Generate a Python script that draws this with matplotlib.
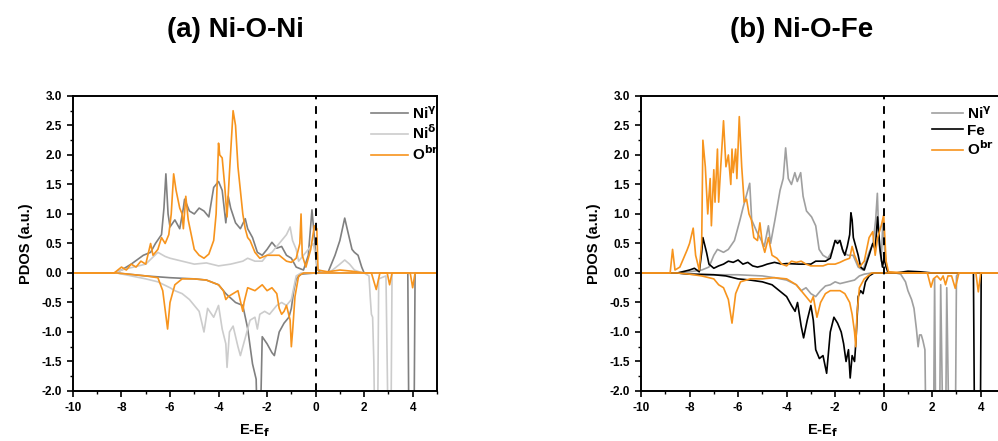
import matplotlib.pyplot as plt
from matplotlib.ticker import MultipleLocator

plt.rcParams['font.family'] = ['Liberation Sans', 'DejaVu Sans']
plt.rcParams['font.weight'] = 'bold'
plt.rcParams['axes.unicode_minus'] = False

# ---- panel (a) Ni-O-Ni : energies (eV) and PDOS values ----
a_niy_up_e = [-10, -8.3, -8.0, -7.6, -7.1, -6.8, -6.6, -6.35, -6.25, -6.17, -6.08, -6.0, -5.8, -5.6, -5.45,
              -5.4, -5.2, -5.0, -4.8, -4.6, -4.4, -4.2, -4.0, -3.85, -3.7, -3.6, -3.5, -3.3, -3.1, -2.9,
              -2.8, -2.6, -2.4, -2.2, -2.0, -1.8, -1.6, -1.4, -1.2, -1.0, -0.8, -0.5, -0.3, -0.15, -0.05,
              0.05, 0.15, 0.5, 0.6, 0.8, 1.0, 1.2, 1.3, 1.5, 1.6, 1.75, 1.9, 2.0, 5]
a_niy_up_v = [0, 0, 0.05, 0.15, 0.3, 0.35, 0.5, 0.65, 1.1, 1.68, 1.0, 0.78, 0.9, 0.75, 1.1,
              1.25, 1.05, 1.0, 1.1, 1.05, 0.95, 1.45, 1.55, 1.4, 0.85, 1.3, 1.1, 0.85, 0.75, 0.92,
              0.75, 0.6, 0.35, 0.3, 0.4, 0.52, 0.42, 0.45, 0.3, 0.25, 0.1, 0.05, 0.3, 1.07, 0.6,
              0.1, 0.02, 0, 0.1, 0.3, 0.55, 0.93, 0.75, 0.4, 0.35, 0.3, 0.1, 0, 0]
a_niy_dn_e = [-10, -8.2, -7.0, -6.0, -5.0, -4.5, -4.0, -3.7, -3.3, -3.0, -2.8, -2.6, -2.45, -2.38, -2.3,
              -2.2, -2.0, -1.8, -1.7, -1.5, -1.3, -1.1, -1.0, -0.9, -0.8, -0.6, 0, 3.8, 3.85, 4.05, 4.1, 5]
a_niy_dn_v = [0, 0, -0.05, -0.08, -0.1, -0.12, -0.2, -0.35, -0.5, -0.55, -0.94, -1.54, -1.8, -3.0, -3.0,
              -1.08, -1.2, -1.35, -1.4, -1.0, -0.85, -0.75, -0.6, -0.3, -0.1, -0.02, 0, 0, -3.0, -3.0, 0, 0]

a_nid_up_e = [-10, -8.3, -8.0, -7.0, -6.5, -6.2, -6.0, -5.5, -5.0, -4.5, -4.0, -3.5, -3.0, -2.8, -2.5,
              -2.2, -2.0, -1.8, -1.5, -1.2, -1.05, -0.95, -0.8, -0.7, -0.5, -0.3, -0.1, 0.0, 0.1, 0.5,
              0.7, 1.0, 1.2, 1.4, 1.6, 1.8, 2.0, 5]
a_nid_up_v = [0, 0, 0.05, 0.15, 0.35, 0.28, 0.25, 0.2, 0.15, 0.17, 0.12, 0.15, 0.2, 0.25, 0.2,
              0.2, 0.3, 0.35, 0.5, 0.65, 0.78, 0.55, 0.4, 0.2, 0.3, 0.4, 0.5, 0.3, 0.05, 0,
              0.05, 0.15, 0.22, 0.15, 0.05, 0.02, 0, 0]
a_nid_dn_e = [-10, -8.2, -7.0, -6.5, -6.0, -5.8, -5.5, -5.2, -5.0, -4.8, -4.6, -4.45, -4.2, -4.0, -3.85,
              -3.7, -3.65, -3.55, -3.4, -3.2, -3.1, -2.9, -2.7, -2.5, -2.4, -2.3, -2.1, -1.9, -1.6, -1.4,
              -1.2, -1.0, -0.9, -0.8, -0.6, 2.0, 2.2, 2.25, 2.3, 2.35, 2.4, 2.45, 2.55, 2.6, 2.9,
              3.0, 3.1, 3.15, 5]
a_nid_dn_v = [0, 0, -0.1, -0.15, -0.25, -0.3, -0.35, -0.45, -0.55, -0.65, -1.0, -0.6, -0.75, -0.55, -0.95,
              -1.2, -1.6, -1.0, -0.9, -1.25, -1.4, -1.1, -0.8, -0.75, -0.95, -0.7, -0.65, -0.7, -0.55, -0.5,
              -0.55, -0.45, -0.25, -0.05, 0, 0, -0.05, -0.4, -0.7, -0.75, -1.5, -3.0, -3.0, -0.1, -0.05,
              -3.0, -3.0, 0, 0]

a_obr_up_e = [-10, -8.3, -8.0, -7.8, -7.6, -7.4, -7.2, -7.0, -6.8, -6.7, -6.5, -6.35, -6.2, -6.05, -5.95,
              -5.85, -5.75, -5.6, -5.5, -5.45, -5.35, -5.25, -5.1, -5.0, -4.8, -4.6, -4.4, -4.2, -4.1, -4.0,
              -3.95, -3.85, -3.75, -3.65, -3.55, -3.45, -3.4, -3.3, -3.2, -3.1, -3.0, -2.9, -2.8, -2.7, -2.5,
              -2.3, -2.0, -1.8, -1.5, -1.2, -1.0, -0.8, -0.65, -0.6, -0.55, -0.4, -0.2, -0.05, 0.05, 0.1,
              0.5, 1.0, 1.5, 2.0, 5]
a_obr_up_v = [0, 0, 0.1, 0.05, 0.15, 0.1, 0.2, 0.15, 0.5, 0.3, 0.4, 0.6, 0.5, 0.65, 1.0,
              1.68, 1.4, 1.1, 1.0, 0.75, 1.3, 0.9, 0.6, 0.4, 0.3, 0.25, 0.32, 0.55, 1.0, 2.2,
              2.0, 1.95, 1.5, 0.95, 1.7, 2.4, 2.75, 2.5, 1.8, 1.4, 1.0, 0.75, 0.6, 0.55, 0.35,
              0.25, 0.3, 0.3, 0.3, 0.2, 0.18, 0.25, 0.5, 1.0, 0.3, 0.1, 0.4, 0.8, 0.75, 0.05,
              0.02, 0.05, 0.03, 0, 0]
a_obr_dn_e = [-10, -8.2, -7.0, -6.5, -6.3, -6.1, -6.0, -5.8, -5.5, -5.0, -4.5, -4.0, -3.8, -3.7, -3.6,
              -3.4, -3.2, -3.0, -2.95, -2.8, -2.5, -2.2, -2.0, -1.8, -1.6, -1.5, -1.4, -1.3, -1.2, -1.05,
              -1.0, -0.95, -0.85, -0.7, -0.5, 2.3, 2.5, 2.65, 2.95, 3.05, 3.15, 3.9, 4.0, 4.1, 5]
a_obr_dn_v = [0, 0, -0.05, -0.08, -0.3, -0.95, -0.5, -0.2, -0.1, -0.1, -0.12, -0.2, -0.3, -0.45, -0.4,
              -0.35, -0.3, -0.65, -0.5, -0.25, -0.3, -0.2, -0.3, -0.25, -0.35, -0.6, -0.7, -0.65, -0.55, -0.8,
              -1.25, -1.0, -0.4, -0.05, 0, 0, -0.28, 0, 0, -0.2, 0, 0, -0.25, 0, 0]

# ---- panel (b) Ni-O-Fe ----
b_niy_up_e = [-10, -8.5, -8.0, -7.5, -7.2, -7.0, -6.85, -6.6, -6.4, -6.15, -5.92, -5.8, -5.52, -5.44, -5.23,
              -5.1, -4.92, -4.75, -4.66, -4.48, -4.27, -4.14, -4.04, -3.93, -3.8, -3.66, -3.56, -3.42, -3.32, -3.18,
              -2.97, -2.8, -2.66, -2.5, -2.3, -2.15, -2.0, -1.8, -1.67, -1.47, -1.26, -1.05, -0.85, -0.6, -0.44,
              -0.33, -0.26, -0.19, -0.1, -0.03, 0.04, 0.15, 0.5, 5]
b_niy_up_v = [0, 0, 0.02, 0.05, 0.1, 0.3, 0.4, 0.35, 0.4, 0.55, 0.9, 1.1, 1.52, 0.9, 0.7,
              0.6, 0.45, 0.8, 0.5, 0.9, 1.4, 1.6, 2.12, 1.6, 1.5, 1.7, 1.55, 1.7, 1.3, 1.05,
              0.95, 0.8, 0.4, 0.3, 0.25, 0.35, 0.55, 0.55, 0.35, 0.3, 0.3, 0.1, 0.05, 0.35, 0.5,
              0.9, 1.35, 0.5, 0.2, 0.9, 0.4, 0.02, 0, 0]
b_niy_dn_e = [-10, -8.5, -8.0, -7.0, -6.0, -5.0, -4.5, -4.0, -3.6, -3.4, -3.2, -3.0, -2.8, -2.6, -2.4,
              -2.2, -2.0, -1.8, -1.5, -1.2, -1.0, -0.8, -0.5, 0.5, 0.7, 0.9, 1.0, 1.15, 1.25, 1.35,
              1.42, 1.48, 1.55, 1.62, 1.7, 1.75, 2.05, 2.1, 2.15, 2.3, 2.35, 2.45, 2.55, 2.6, 2.7,
              2.95, 3.0, 3.1, 5]
b_niy_dn_v = [0, 0, -0.02, -0.03, -0.03, -0.05, -0.08, -0.12, -0.2, -0.3, -0.25, -0.35, -0.4, -0.3, -0.22,
              -0.2, -0.15, -0.18, -0.15, -0.12, -0.05, -0.02, 0, 0, -0.02, -0.15, -0.3, -0.45, -0.6, -0.95,
              -1.25, -1.05, -1.05, -1.15, -1.3, -3.0, -3.0, -0.1, -3.0, -3.0, -0.2, -3.0, -3.0, -0.25, -3.0,
              -3.0, -0.05, 0, 0]

b_fe_up_e = [-10, -8.5, -8.0, -7.8, -7.6, -7.5, -7.45, -7.3, -7.2, -7.0, -6.8, -6.6, -6.4, -6.2, -6.0,
             -5.8, -5.6, -5.4, -5.2, -5.0, -4.8, -4.5, -4.2, -4.0, -3.5, -3.0, -2.8, -2.6, -2.4, -2.2,
             -2.1, -2.0, -1.9, -1.8, -1.7, -1.6, -1.5, -1.4, -1.35, -1.3, -1.25, -1.15, -1.05, -0.95, -0.8,
             -0.6, -0.45, -0.35, -0.25, -0.15, -0.05, 0.02, 0.1, 0.2, 0.5, 1.0, 1.5, 2.0, 5]
b_fe_up_v = [0, 0, 0.05, 0.08, 0.02, 0.35, 0.6, 0.35, 0.15, 0.08, 0.12, 0.15, 0.2, 0.18, 0.22,
             0.15, 0.18, 0.12, 0.1, 0.12, 0.15, 0.18, 0.15, 0.16, 0.15, 0.15, 0.2, 0.2, 0.2, 0.25,
             0.4, 0.55, 0.5, 0.55, 0.4, 0.3, 0.45, 0.65, 1.02, 0.9, 0.6, 0.45, 0.3, 0.1, 0.05,
             0.3, 0.5, 0.4, 0.95, 0.4, 0.1, 0.25, 0.1, 0, 0, 0.03, 0.02, 0, 0]
b_fe_dn_e = [-10, -8.5, -8.0, -7.0, -6.5, -6.0, -5.5, -5.0, -4.6, -4.3, -4.0, -3.8, -3.65, -3.55, -3.4,
             -3.3, -3.15, -3.0, -2.9, -2.8, -2.65, -2.5, -2.35, -2.2, -2.05, -1.9, -1.75, -1.65, -1.55, -1.45,
             -1.38, -1.3, -1.2, -1.15, -1.05, -0.95, -0.85, -0.75, -0.6, -0.4, 3.7, 3.75, 3.98, 4.02, 5]
b_fe_dn_v = [0, 0, -0.02, -0.03, -0.05, -0.1, -0.12, -0.15, -0.2, -0.3, -0.4, -0.55, -0.65, -0.5, -0.9,
             -1.1, -0.8, -0.55, -0.8, -1.3, -1.45, -1.4, -1.7, -1.0, -0.75, -0.85, -1.0, -1.2, -1.5, -1.3,
             -1.78, -1.4, -1.5, -1.2, -0.4, -0.3, -0.35, -0.15, -0.05, 0, 0, -3.0, -3.0, 0, 0]

b_obr_up_e = [-10, -8.8, -8.7, -8.6, -8.4, -8.1, -8.0, -7.85, -7.75, -7.6, -7.5, -7.45, -7.35, -7.25, -7.15,
              -7.1, -7.0, -6.95, -6.85, -6.8, -6.7, -6.6, -6.5, -6.4, -6.3, -6.25, -6.2, -6.1, -6.05, -5.95,
              -5.85, -5.75, -5.65, -5.55, -5.45, -5.35, -5.2, -5.1, -5.0, -4.9, -4.75, -4.6, -4.4, -4.2, -4.0,
              -3.8, -3.6, -3.4, -3.2, -3.0, -2.8, -2.5, -2.3, -2.0, -1.8, -1.6, -1.4, -1.3, -1.2, -1.1,
              -1.0, -0.8, -0.6, -0.45, -0.35, -0.25, -0.1, 0.0, 0.1, 0.2, 1.0, 2.0, 5]
b_obr_up_v = [0, 0, 0.4, 0.05, 0.1, 0.39, 0.5, 0.76, 0.3, 0.05, 0.5, 2.25, 1.8, 1.0, 1.6,
              0.8, 1.75, 1.2, 2.1, 1.2, 1.9, 2.58, 1.8, 2.0, 1.5, 2.1, 1.7, 2.1, 1.6, 2.65,
              1.8, 1.2, 1.25, 1.0, 0.9, 0.6, 0.55, 0.85, 0.5, 0.35, 0.6, 0.3, 0.25, 0.15, 0.12,
              0.2, 0.18, 0.2, 0.15, 0.12, 0.12, 0.12, 0.15, 0.15, 0.18, 0.22, 0.25, 0.45, 0.3, 0.2,
              0.1, 0.2, 0.6, 0.7, 0.3, 0.6, 0.8, 0.98, 0.2, 0.02, 0, 0, 0]
b_obr_dn_e = [-10, -8.5, -8.0, -7.5, -7.0, -6.8, -6.6, -6.4, -6.25, -6.1, -5.9, -5.5, -5.0, -4.5, -4.0,
              -3.6, -3.4, -3.2, -3.0, -2.9, -2.75, -2.6, -2.4, -2.2, -2.0, -1.8, -1.6, -1.4, -1.3, -1.2,
              -1.15, -1.1, -1.0, -0.8, -0.5, 1.8, 1.95, 2.05, 2.2, 2.35, 2.45, 2.55, 2.65, 2.8, 2.95,
              3.1, 3.8, 3.9, 4.0, 5]
b_obr_dn_v = [0, 0, -0.02, -0.05, -0.1, -0.2, -0.25, -0.45, -0.85, -0.35, -0.15, -0.1, -0.1, -0.08, -0.1,
              -0.2, -0.3, -0.4, -0.5, -0.4, -0.75, -0.5, -0.35, -0.3, -0.3, -0.3, -0.35, -0.5, -0.7, -1.0,
              -1.25, -0.7, -0.25, -0.1, 0, 0, -0.24, -0.1, -0.05, -0.12, -0.05, -0.2, -0.05, -0.05, -0.26,
              0, 0, -0.32, 0, 0]

orange = '#f7941d'
fig = plt.figure(figsize=(9.98, 4.41), dpi=100)
ax1 = fig.add_axes([0.0731, 0.1134, 0.3647, 0.669])
ax2 = fig.add_axes([0.6423, 0.1134, 0.3647, 0.669])

panels = [
    (ax1, (1.035, 1.005), 2.4,
     [(a_niy_up_e, a_niy_up_v, a_niy_dn_e, a_niy_dn_v, '#808080', r'Ni$^{\mathbf{\gamma}}$'),
      (a_nid_up_e, a_nid_up_v, a_nid_dn_e, a_nid_dn_v, '#cccccc', r'Ni$^{\mathbf{\delta}}$'),
      (a_obr_up_e, a_obr_up_v, a_obr_dn_e, a_obr_dn_v, orange, r'O$^{\mathbf{br}}$')]),
    (ax2, (1.0, 1.005), 2.0,
     [(b_niy_up_e, b_niy_up_v, b_niy_dn_e, b_niy_dn_v, '#a0a0a0', r'Ni$^{\mathbf{\gamma}}$'),
      (b_fe_up_e, b_fe_up_v, b_fe_dn_e, b_fe_dn_v, '#000000', 'Fe'),
      (b_obr_up_e, b_obr_up_v, b_obr_dn_e, b_obr_dn_v, orange, r'O$^{\mathbf{br}}$')]),
]

for ax, anchor, hlen, series in panels:
    for ue, uv, de, dv, col, lab in series:
        ax.plot(ue, uv, color=col, lw=1.2, label=lab)
        ax.plot(de, dv, color=col, lw=1.2)
    ax.axvline(0, color='k', ls='--', lw=1.4, dashes=(4, 3.5))
    ax.set_xlim(-10, 5)
    ax.set_ylim(-2.0, 3.0)
    ax.xaxis.set_major_locator(MultipleLocator(2))
    ax.xaxis.set_minor_locator(MultipleLocator(1))
    ax.yaxis.set_major_locator(MultipleLocator(0.5))
    ax.yaxis.set_minor_locator(MultipleLocator(0.25))
    ax.yaxis.set_major_formatter(plt.FormatStrFormatter('%.1f'))
    ax.tick_params(which='major', direction='out', length=4, width=1.2, labelsize=8.5, pad=4)
    ax.tick_params(which='minor', direction='out', length=2, width=1.0)
    for sp in ax.spines.values():
        sp.set_linewidth(1.4)
    ax.set_ylabel('PDOS (a.u.)', fontsize=10.5, fontweight='bold', labelpad=6)
    ax.set_xlabel(r'E-E$_{\mathbf{f}}$', fontsize=10.5, fontweight='bold', labelpad=6)
    ax.legend(loc='upper right', frameon=False, fontsize=11, handlelength=hlen,
              handletextpad=0.3, labelspacing=0.12, borderaxespad=0.3, bbox_to_anchor=anchor)

fig.text(0.236, 0.932, '(a) Ni-O-Ni', ha='center', va='center', fontsize=20, fontweight='bold')
fig.text(0.803, 0.932, '(b) Ni-O-Fe', ha='center', va='center', fontsize=20, fontweight='bold')

fig.savefig('out.png', dpi=100)
